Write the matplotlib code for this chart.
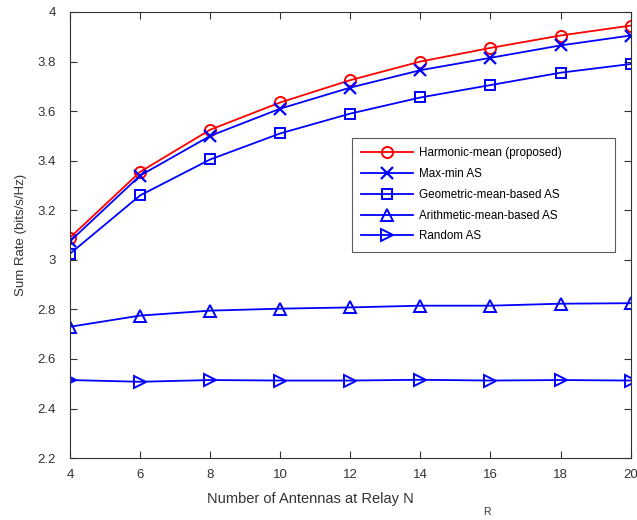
import matplotlib
matplotlib.use("Agg")
import matplotlib.pyplot as plt

plt.rcParams["font.family"] = ["Liberation Sans", "DejaVu Sans"]

# Data
n_antennas = [4, 6, 8, 10, 12, 14, 16, 18, 20]
harmonic = [3.09, 3.355, 3.525, 3.635, 3.725, 3.80, 3.855, 3.905, 3.945]
maxmin = [3.075, 3.34, 3.50, 3.61, 3.695, 3.765, 3.815, 3.865, 3.905]
geometric = [3.025, 3.26, 3.405, 3.51, 3.59, 3.655, 3.705, 3.755, 3.79]
arithmetic = [2.73, 2.775, 2.795, 2.803, 2.808, 2.815, 2.815, 2.823, 2.825]
random_as = [2.515, 2.508, 2.515, 2.513, 2.513, 2.516, 2.513, 2.515, 2.513]

labels = ["Harmonic-mean (proposed)", "Max-min AS", "Geometric-mean-based AS",
          "Arithmetic-mean-based AS", "Random AS"]
yticks = [2.2, 2.4, 2.6, 2.8, 3.0, 3.2, 3.4, 3.6, 3.8, 4.0]
ytick_labels = ["2.2", "2.4", "2.6", "2.8", "3", "3.2", "3.4", "3.6", "3.8", "4"]

fig = plt.figure(figsize=(6.37, 5.2), dpi=100)
ax = fig.add_axes([0.110, 0.119, 0.880, 0.858])

lw = 1.3
ms = 8
ax.plot(n_antennas, harmonic, color="#ff0000", marker="o", mfc="none", mew=1.4,
        ms=ms, lw=lw, label=labels[0])
ax.plot(n_antennas, maxmin, color="#0000ff", marker="x", mew=1.6,
        ms=ms, lw=lw, label=labels[1])
ax.plot(n_antennas, geometric, color="#0000ff", marker="s", mfc="none", mew=1.4,
        ms=7, lw=lw, label=labels[2])
ax.plot(n_antennas, arithmetic, color="#0000ff", marker="^", mfc="none", mew=1.4,
        ms=ms, lw=lw, label=labels[3])
ax.plot(n_antennas, random_as, color="#0000ff", marker=">", mfc="none", mew=1.4,
        ms=ms, lw=lw, label=labels[4])

ax.set_xlim(4, 20)
ax.set_ylim(2.2, 4.0)
ax.set_xticks(n_antennas)
ax.set_yticks(yticks)
ax.set_yticklabels(ytick_labels)
ax.tick_params(direction="in", top=True, right=True, length=5, width=0.8,
               labelsize=9.5, labelcolor="#333333", color="#333333")
ax.tick_params(axis="y", pad=10)
ax.tick_params(axis="x", pad=8)
for sp in ax.spines.values():
    sp.set_color("#333333")
    sp.set_linewidth(0.8)

ax.set_ylabel("Sum Rate (bits/s/Hz)", fontsize=9.5, color="#333333", labelpad=8)
fig.text(0.487, 0.041, "Number of Antennas at Relay N", fontsize=10.5,
         color="#333333", ha="center", va="center")
fig.text(0.765, 0.016, "R", fontsize=7.5, color="#333333", ha="center", va="center")

leg = ax.legend(loc="upper left", bbox_to_anchor=(0.503, 0.6175, 0.470, 0.1),
                mode="expand", fontsize=8.4,
                frameon=True, fancybox=False, edgecolor="#333333",
                handlelength=4.4, labelspacing=0.75, borderpad=0.8,
                handletextpad=0.5, borderaxespad=0)
leg.get_frame().set_linewidth(0.8)

fig.savefig("out.png", dpi=100)
